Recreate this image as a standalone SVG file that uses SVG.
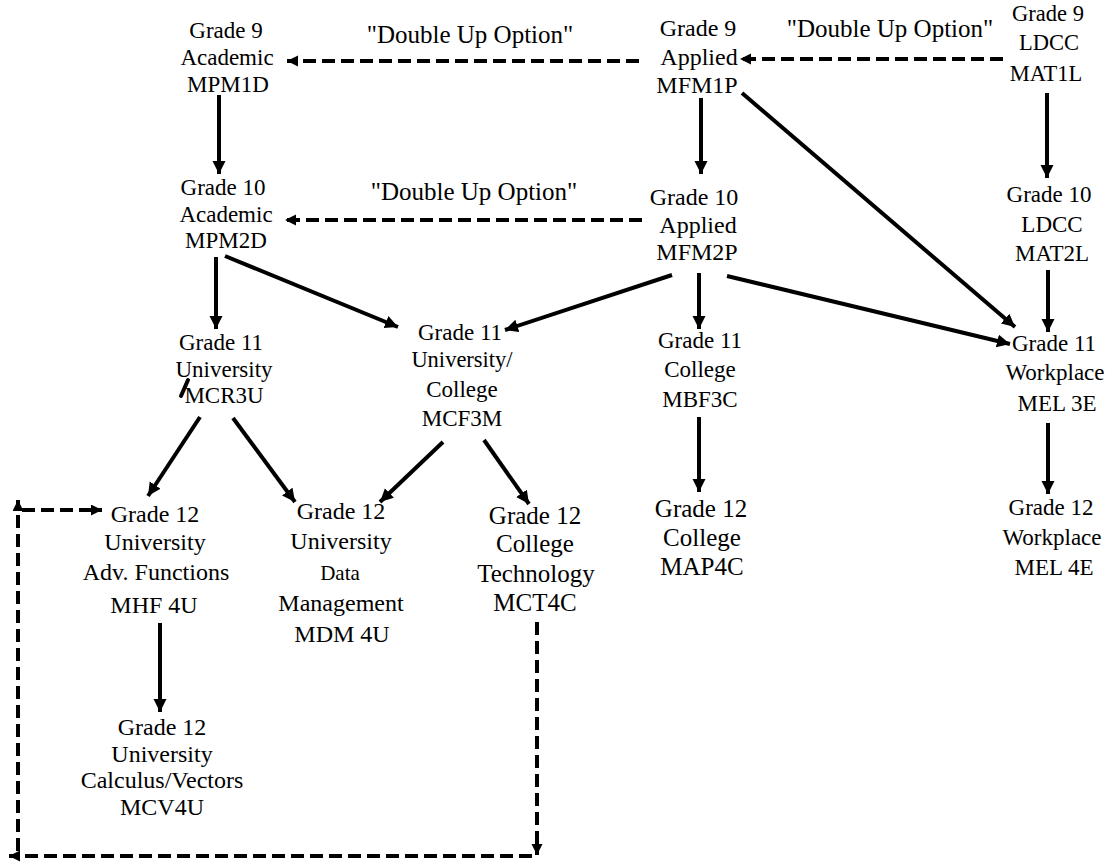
<svg xmlns="http://www.w3.org/2000/svg" width="1109" height="864" viewBox="0 0 1109 864" font-family="'Liberation Serif', 'Times New Roman', 'DejaVu Serif', serif">
<defs>
<style>
text{font-family:"Liberation Serif","Times New Roman","DejaVu Serif",serif;fill:#000;text-anchor:middle}
.f22{font-size:22.5px}.f23{font-size:23px}.f24{font-size:24px}.f25{font-size:25px}.f21{font-size:21px}
.du{font-size:25px}
.s{stroke:#000;stroke-width:4;fill:none;marker-end:url(#ah)}
.d{stroke:#000;stroke-width:4;fill:none;stroke-dasharray:13 6;marker-end:url(#dh)}
</style>
<marker id="ah" markerUnits="userSpaceOnUse" markerWidth="14" markerHeight="14" refX="13" refY="6.5" orient="auto">
<path d="M0,0 L13,6.5 L0,13 z" fill="#000"/>
</marker>
<marker id="dh" markerUnits="userSpaceOnUse" markerWidth="12" markerHeight="12" refX="11" refY="5.5" orient="auto">
<path d="M0,0 L11,5.5 L0,11 z" fill="#000"/>
</marker>
</defs>
<rect width="1109" height="864" fill="#fff"/>

<g id="connectors">
<line class="s" x1="219" y1="95" x2="219" y2="174"/>
<line class="s" x1="701" y1="98" x2="701" y2="174"/>
<line class="s" x1="742" y1="93" x2="1015" y2="327"/>
<line class="s" x1="1047" y1="93" x2="1047" y2="178"/>
<line class="s" x1="216" y1="257" x2="216" y2="329"/>
<line class="s" x1="225" y1="256" x2="398" y2="327"/>
<line class="s" x1="672" y1="275" x2="505" y2="330"/>
<line class="s" x1="699" y1="273" x2="699" y2="329"/>
<line class="s" x1="727" y1="276" x2="1010" y2="344"/>
<line class="s" x1="1048" y1="270" x2="1048" y2="332"/>
<line class="s" x1="200" y1="417" x2="148" y2="496"/>
<line class="s" x1="233" y1="418" x2="295" y2="502"/>
<line class="s" x1="443" y1="442" x2="380" y2="502"/>
<line class="s" x1="484" y1="440" x2="529" y2="504"/>
<line class="s" x1="699" y1="417" x2="699" y2="492"/>
<line class="s" x1="1048" y1="423" x2="1048" y2="494"/>
<line class="s" x1="160" y1="623" x2="160" y2="712"/>
<line x1="181" y1="396" x2="188" y2="380" stroke="#000" stroke-width="4" stroke-linecap="round"/>
<line class="d" x1="639" y1="61" x2="287" y2="61"/>
<line class="d" x1="1003" y1="59" x2="740" y2="59"/>
<line class="d" x1="642" y1="220" x2="285" y2="220"/>
<line class="d" x1="537" y1="622" x2="537" y2="855"/>
<line class="d" x1="532" y1="856" x2="9" y2="856"/>
<line class="d" x1="18" y1="851" x2="18" y2="500"/>
<line class="d" x1="22" y1="510" x2="102" y2="510"/>
</g>

<g id="label-double-up-1"><text class="du" x="470" y="43">"Double Up Option"</text></g>
<g id="label-double-up-2"><text class="du" x="474" y="200">"Double Up Option"</text></g>
<g id="label-double-up-3"><text class="du" x="890" y="37">"Double Up Option"</text></g>

<g id="n-mpm1d" class="f23"><text x="226" y="38">Grade 9</text><text x="227" y="65">Academic</text><text x="228" y="92">MPM1D</text></g>
<g id="n-mfm1p" class="f24"><text x="698" y="36">Grade 9</text><text x="699" y="65">Applied</text><text x="697" y="93">MFM1P</text></g>
<g id="n-mat1l" class="f22"><text x="1048" y="21">Grade 9</text><text x="1049" y="50">LDCC</text><text x="1046" y="81">MAT1L</text></g>

<g id="n-mpm2d" class="f23"><text x="223" y="195">Grade 10</text><text x="226" y="222">Academic</text><text x="226" y="248">MPM2D</text></g>
<g id="n-mfm2p" class="f24"><text x="694" y="205">Grade 10</text><text x="698" y="233">Applied</text><text x="697" y="260">MFM2P</text></g>
<g id="n-mat2l" class="f23"><text x="1049" y="202">Grade 10</text><text x="1052" y="232">LDCC</text><text x="1052" y="261">MAT2L</text></g>

<g id="n-mcr3u" class="f23"><text x="221" y="350">Grade 11</text><text x="224" y="377">University</text><text x="224" y="403">MCR3U</text></g>
<g id="n-mcf3m" class="f23"><text x="460" y="340">Grade 11</text><text x="462" y="367" class="f22">University/</text><text x="462" y="397">College</text><text x="462" y="426">MCF3M</text></g>
<g id="n-mbf3c" class="f23"><text x="700" y="348">Grade 11</text><text x="700" y="377">College</text><text x="700" y="407">MBF3C</text></g>
<g id="n-mel3e" class="f23"><text x="1054" y="351">Grade 11</text><text x="1055" y="380">Workplace</text><text x="1057" y="411">MEL 3E</text></g>

<g id="n-mhf4u" class="f24"><text x="155" y="522">Grade 12</text><text x="155" y="550">University</text><text x="156" y="580">Adv. Functions</text><text x="154" y="613">MHF 4U</text></g>
<g id="n-mdm4u" class="f24"><text x="341" y="519">Grade 12</text><text x="341" y="549">University</text><text x="340" y="580" class="f21">Data</text><text x="341" y="611">Management</text><text x="342" y="642">MDM 4U</text></g>
<g id="n-mct4c" class="f25"><text x="535" y="524">Grade 12</text><text x="535" y="552">College</text><text x="536" y="582">Technology</text><text x="535" y="611">MCT4C</text></g>
<g id="n-map4c" class="f25"><text x="701" y="517">Grade 12</text><text x="702" y="546">College</text><text x="702" y="575">MAP4C</text></g>
<g id="n-mel4e" class="f23"><text x="1051" y="515">Grade 12</text><text x="1052" y="545">Workplace</text><text x="1054" y="575">MEL 4E</text></g>
<g id="n-mcv4u" class="f24"><text x="162" y="735">Grade 12</text><text x="162" y="762">University</text><text x="162" y="788">Calculus/Vectors</text><text x="162" y="815">MCV4U</text></g>
</svg>
